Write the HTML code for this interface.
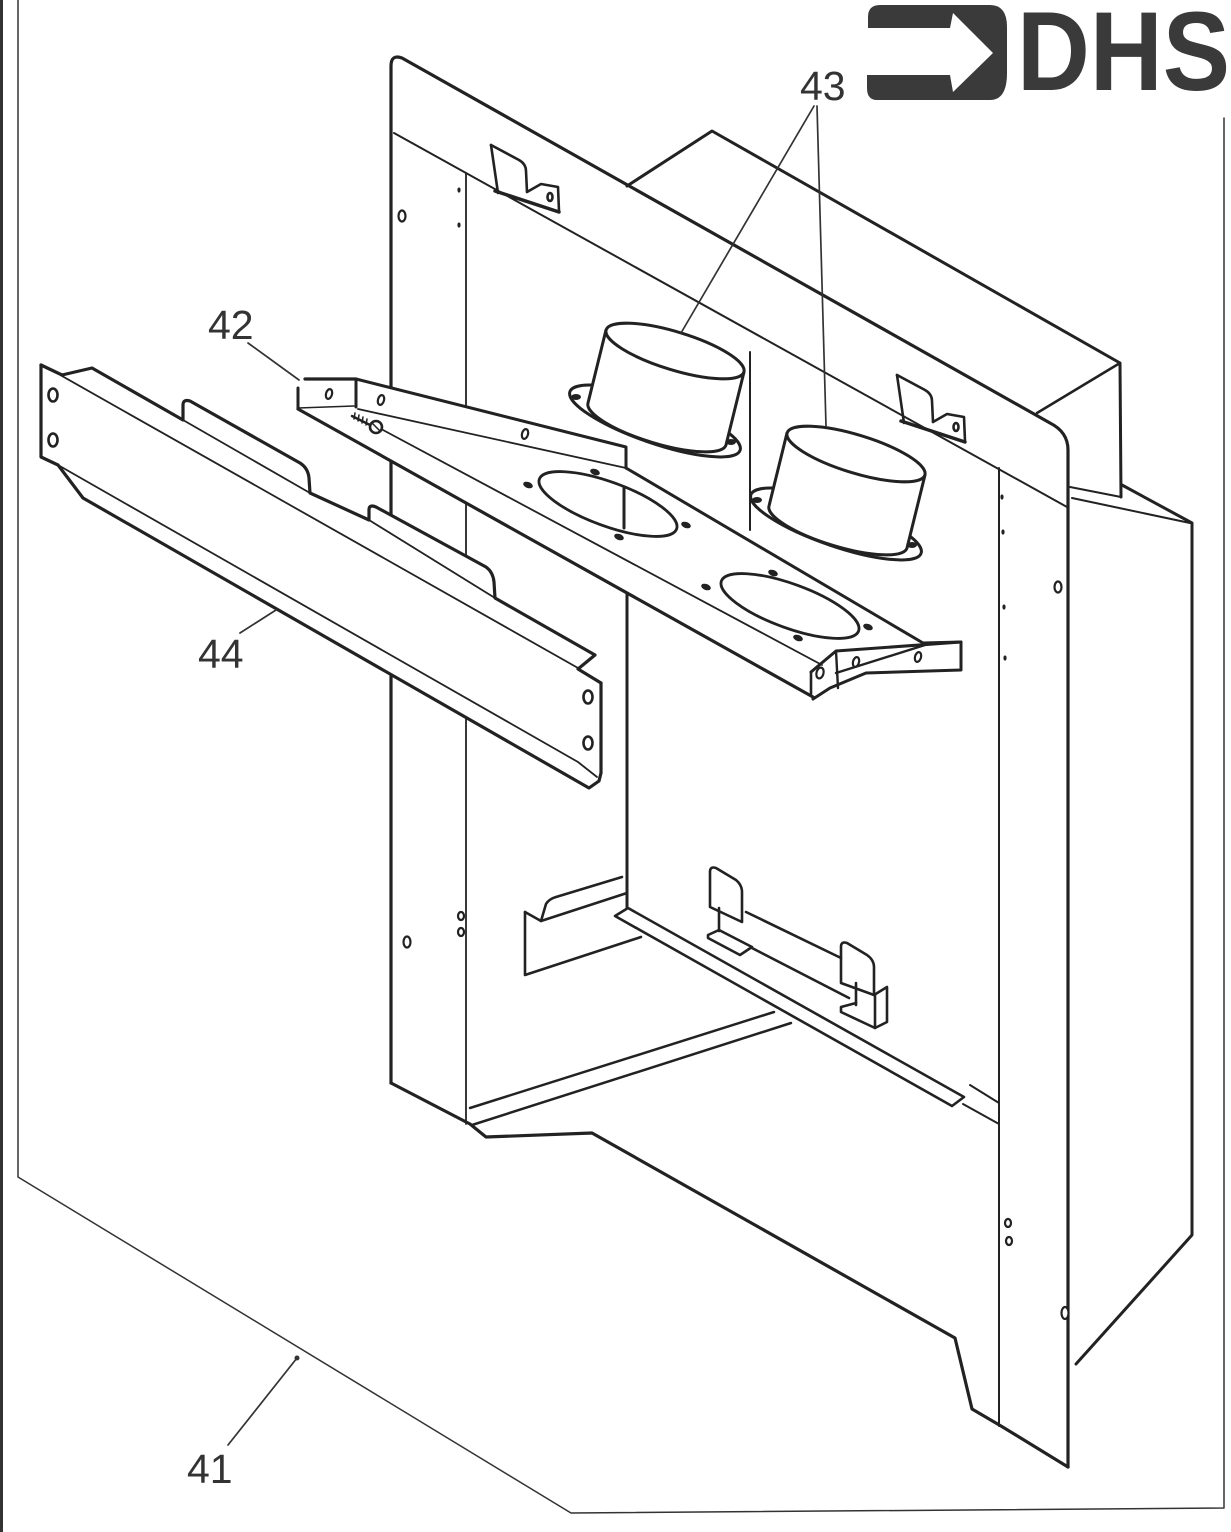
<!DOCTYPE html>
<html><head><meta charset="utf-8"><style>html,body{margin:0;padding:0;background:#fff}svg{display:block}</style></head>
<body>
<svg xmlns="http://www.w3.org/2000/svg" width="1231" height="1532" viewBox="0 0 1231 1532">
<rect width="1231" height="1532" fill="#fff"/>
<g fill="none" stroke="#222" stroke-linecap="round" stroke-linejoin="round">
<!-- page border and wall plate 41 -->
<line x1="1.5" y1="0" x2="1.5" y2="1532" stroke="#333" stroke-width="3"/>
<polyline points="18,0 18,1177 571,1513 1224,1508 1224,118" stroke-width="1.5" stroke="#333"/>

<!-- back box -->
<path d="M627,186 L712,131 L1120,363 L1121,497" stroke-width="3"/>
<path d="M1120,363 L1037,413" stroke-width="2.6"/>
<path d="M1070,487 L1121,497" stroke-width="2"/>
<path d="M1122,485 L1192,523 L1192,1235 L1076,1364" stroke-width="3"/>
<path d="M1072,498 L1190,523" stroke-width="2"/>

<!-- front surround -->
<path d="M391,1083 L391,66 Q391,54 402,58 L1050,423 Q1068,432 1068,450 L1068,1467" stroke-width="3.2"/>
<path d="M391,1083 L470,1124 L486,1137 L592,1133 L955,1338 L972,1409 L1001,1426 L1068,1467" stroke-width="3.2"/>
<path d="M394,133 L1067,507" stroke-width="2"/>
<path d="M466,173 L466,1124" stroke-width="1.8"/>
<path d="M999,468 L999,1426" stroke-width="2"/>
<path d="M627,590 L627,908" stroke-width="3"/>
<path d="M750,352 L750,530" stroke-width="2"/>

<!-- ledge and box bottom -->
<path d="M615,916 L628,908 L964,1097 L952,1106 Z" stroke-width="2.6"/>
<path d="M470,1108 L774,1012" stroke-width="2.5"/>
<path d="M472,1125 L791,1023" stroke-width="2.5"/>
<path d="M970,1085 L999,1103" stroke-width="2"/>
<path d="M963,1104 L999,1124" stroke-width="2"/>

<!-- top clips -->
<g stroke-width="2.6">
<path d="M491,145 L498,193"/>
<path d="M491,145 L519,160 Q526,164 526,171 L527,192"/>
<path d="M495,191 L559,212" stroke-width="3.5"/>
<path d="M527,192 L541,184 L558,187 L559,211"/>
<ellipse cx="550" cy="197" rx="2.5" ry="4"/>
</g>
<g stroke-width="2.6" transform="translate(406,230)">
<path d="M491,145 L498,193"/>
<path d="M491,145 L519,160 Q526,164 526,171 L527,192"/>
<path d="M495,191 L559,212" stroke-width="3.5"/>
<path d="M527,192 L541,184 L558,187 L559,211"/>
<ellipse cx="550" cy="197" rx="2.5" ry="4"/>
</g>

<!-- interior left bracket -->
<g stroke-width="2.6">
<path d="M525,912 L525,975 L641,937"/>
<path d="M525,912 L541,921 L627,893"/>
<path d="M541,921 L546,904 Q549,899 556,897 L622,877"/>
</g>

<!-- interior right holder -->
<g stroke-width="2.6">
<path d="M710,907 L710,872 Q710,866 716,868 L736,880 Q742,885 742,892 L742,922 Z"/>
<path d="M719,908 L719,931"/>
<path d="M708,935 L719,930 L752,947 L740,955 L708,938 Z"/>
<path d="M746,912 L841,958"/>
<path d="M752,948 L849,998"/>
<path d="M841,983 L841,947 Q841,941 847,943 L867,955 Q874,960 874,967 L874,995 Z"/>
<path d="M856,983 L856,1005"/>
<path d="M874,995 L887,987 L887,1022 L875,1028 L841,1012 L841,1007 L856,1003"/>
<path d="M875,995 L875,1028"/>
</g>

<!-- panel holes -->
<g stroke-width="2.2" fill="#fff">
<ellipse cx="402" cy="216" rx="3.5" ry="5.5"/>
<ellipse cx="407" cy="942" rx="3.5" ry="5.5"/>
<ellipse cx="461" cy="916" rx="3" ry="4"/>
<ellipse cx="461" cy="932" rx="3" ry="4"/>
<ellipse cx="1058" cy="587" rx="3.5" ry="5.5"/>
<ellipse cx="1008" cy="1223" rx="3" ry="4"/>
<ellipse cx="1009" cy="1241" rx="3" ry="4"/>
<ellipse cx="1065" cy="1313" rx="3.5" ry="6"/>
</g>
<g fill="#222" stroke="none">
<ellipse cx="459" cy="190" rx="1.6" ry="2.6"/>
<ellipse cx="459" cy="225" rx="1.6" ry="2.6"/>
<ellipse cx="1002" cy="497" rx="1.6" ry="2.6"/>
<ellipse cx="1003" cy="532" rx="1.6" ry="2.6"/>
<ellipse cx="1004" cy="607" rx="1.6" ry="2.6"/>
<ellipse cx="1005" cy="658" rx="1.6" ry="2.6"/>
</g>

<!-- cylinders 43 -->
<g id="cyl" stroke-width="3" fill="#fff">
<ellipse cx="655" cy="421" rx="90" ry="22" transform="rotate(19 655 421)"/>
<path d="M606,330 L588,403 A72,19 17 0 0 726,445 L744,372 Z"/>
<ellipse cx="675" cy="351" rx="72" ry="19" transform="rotate(17 675 351)"/>
<ellipse cx="576" cy="397" rx="5" ry="3" fill="#222" stroke="none"/>
<ellipse cx="731" cy="442" rx="5" ry="3" fill="#222" stroke="none"/>
</g>
<g stroke-width="3" fill="#fff" transform="translate(181,103)">
<ellipse cx="655" cy="421" rx="90" ry="22" transform="rotate(19 655 421)"/>
<path d="M606,330 L588,403 A72,19 17 0 0 726,445 L744,372 Z"/>
<ellipse cx="675" cy="351" rx="72" ry="19" transform="rotate(17 675 351)"/>
<ellipse cx="576" cy="397" rx="5" ry="3" fill="#222" stroke="none"/>
<ellipse cx="731" cy="442" rx="5" ry="3" fill="#222" stroke="none"/>
</g>

<!-- bracket 42 -->
<polygon fill="#fff" stroke="none" points="298,379 356,379 626,447 626,468 923,643 961,642 961,670 866,673 830,688 813,699 298,409"/>
<path d="M305,379 L356,379" stroke-width="3.2"/>
<path d="M298,388 L298,409" stroke-width="3"/>
<path d="M356,379 L356,407" stroke-width="3"/>
<path d="M298,408 L354,406" stroke-width="1.6"/>
<path d="M356,379 L626,447 L626,468" stroke-width="3"/>
<path d="M358,409 L626,468" stroke-width="1.8"/>
<path d="M626,468 L923,643 L961,642" stroke-width="3"/>
<path d="M298,409 L813,697" stroke-width="3.2"/>
<path d="M383,430 L822,665" stroke-width="1.8"/>
<path d="M811,672 L811,694" stroke-width="2.6"/>
<path d="M811,672 L836,651 L961,642 L961,670 L866,673 L830,688 L813,699" stroke-width="3"/>
<path d="M836,651 L838,688" stroke-width="2.4"/>
<path d="M836,673 L925,645" stroke-width="2.4"/>
<g stroke-width="2.2" fill="#fff">
<ellipse cx="381" cy="400" rx="3" ry="5" transform="rotate(15 381 400)"/>
<ellipse cx="329" cy="394" rx="3" ry="5" transform="rotate(15 329 394)"/>
<ellipse cx="525" cy="434" rx="3" ry="5" transform="rotate(15 525 434)"/>
<ellipse cx="820" cy="673" rx="3.5" ry="5.5" transform="rotate(15 820 673)"/>
<ellipse cx="856" cy="662" rx="3" ry="5" transform="rotate(15 856 662)"/>
<ellipse cx="918" cy="657" rx="3" ry="5" transform="rotate(15 918 657)"/>
</g>
<ellipse cx="608" cy="504" rx="73" ry="22" transform="rotate(20 608 504)" stroke-width="2.8"/>
<ellipse cx="790" cy="606" rx="73" ry="22" transform="rotate(20 790 606)" stroke-width="2.8"/>
<path d="M624,487 L624,528" stroke-width="3"/>
<g fill="#222" stroke="none">
<ellipse cx="528" cy="485" rx="5" ry="3" transform="rotate(20 528 485)"/>
<ellipse cx="595" cy="472" rx="5" ry="3" transform="rotate(20 595 472)"/>
<ellipse cx="686" cy="525" rx="5" ry="3" transform="rotate(20 686 525)"/>
<ellipse cx="619" cy="537" rx="5" ry="3" transform="rotate(20 619 537)"/>
<ellipse cx="706" cy="587" rx="5" ry="3" transform="rotate(20 706 587)"/>
<ellipse cx="773" cy="573" rx="5" ry="3" transform="rotate(20 773 573)"/>
<ellipse cx="868" cy="627" rx="5" ry="3" transform="rotate(20 868 627)"/>
<ellipse cx="798" cy="638" rx="5" ry="3" transform="rotate(20 798 638)"/>
</g>
<!-- screw -->
<circle cx="376" cy="427" r="6" fill="#fff" stroke-width="2.6"/>
<path d="M372,423 L380,431" stroke-width="1.5"/>
<path d="M352,416 L370,425" stroke-width="2.4"/>
<path d="M355,413 L354,419 M359,415 L358,421 M363,417 L362,423 M367,419 L366,425" stroke-width="1.5"/>

<!-- bracket 44 -->
<polygon fill="#fff" stroke="none" points="41,365 62,375 92,368 183,420 183,403 188,400 303,465 309,477 310,493 369,520 369,508 375,506 487,568 493,580 495,598 595,655 582,668 601,683 601,773 599,782 589,788 83,498 58,465 41,457"/>
<path d="M41,365 L41,457 L58,465 L83,498 L589,788 L599,781 L601,773 L601,683" stroke-width="3.2"/>
<path d="M41,365 L62,375 L92,368 L183,420 L183,405 Q183,399 190,401 L300,463 Q308,468 309,478 L310,493 L369,520 L369,510 Q369,504 376,507 L486,567 Q493,572 494,582 L495,598 L595,655 L578,669 L601,683" stroke-width="3.2"/>
<path d="M62,376 L578,668" stroke-width="1.8"/>
<path d="M183,420 L310,493" stroke-width="1.8"/>
<path d="M369,520 L495,598" stroke-width="1.8"/>
<path d="M58,465 L578,762 L597,777" stroke-width="1.8"/>
<g stroke-width="2.6" fill="#fff">
<ellipse cx="53" cy="395" rx="4.5" ry="6.5"/>
<ellipse cx="53" cy="440" rx="4.5" ry="6.5"/>
<ellipse cx="588" cy="697" rx="4.5" ry="6.5"/>
<ellipse cx="588" cy="743" rx="4.5" ry="6.5"/>
</g>

<!-- leaders -->
<g stroke="#333" stroke-width="1.7">
<path d="M248,343 L299,380"/>
<path d="M240,633 L276,610"/>
<path d="M228,1445 L297,1358"/>
<path d="M814,106 L681,333"/>
<path d="M817,106 L826,426"/>
</g>
<circle cx="297" cy="1358" r="2.5" fill="#333" stroke="none"/>
</g>

<!-- labels -->
<g font-family="Liberation Sans, Arial, sans-serif" font-size="41" fill="#333">
<text x="800" y="100">43</text>
<text x="208" y="339">42</text>
<text x="198" y="668">44</text>
<text x="187" y="1483">41</text>
</g>

<!-- DHS logo -->
<path d="M868,17 Q868,5 880,5 L990,5 Q1007,5 1007,27 L1007,73 Q1007,100 990,100 L877,100 Q867,100 867,88 L867,75 L950,75 L953,92 L993,53 L953,13 L950,28 L868,28 Z" fill="#3a3a3a"/>
<text x="1017" y="90" font-family="Liberation Sans, Arial, sans-serif" font-weight="bold" font-size="112" fill="#3a3a3a" textLength="213" lengthAdjust="spacingAndGlyphs">DHS</text>
</svg>
</body></html>
